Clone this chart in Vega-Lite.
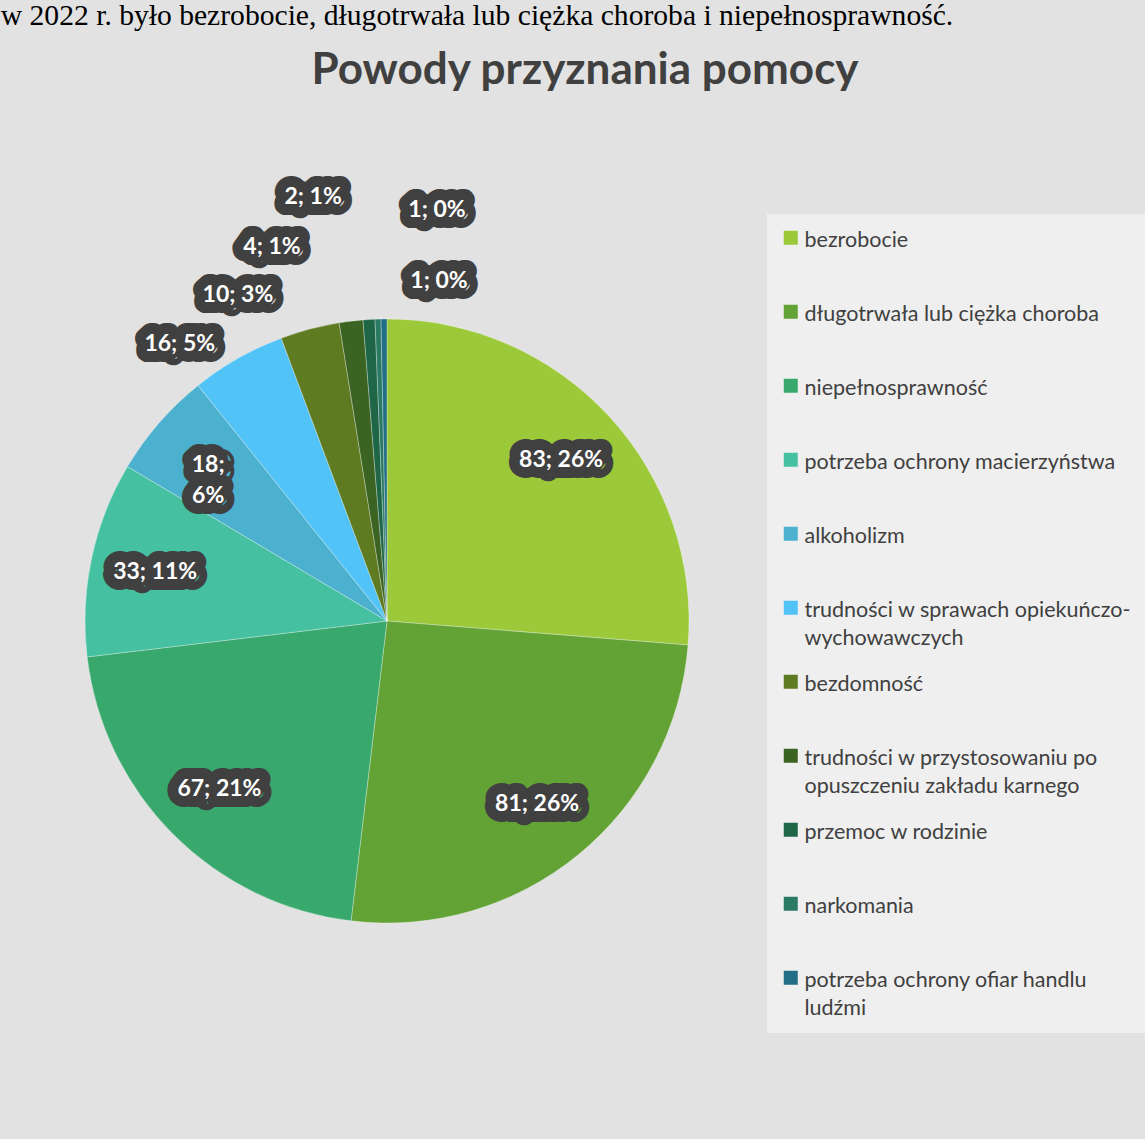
{
  "$schema": "https://vega.github.io/schema/vega-lite/v6.json",
  "background": "#e2e2e2",
  "padding": {"left": 0, "right": 0, "top": 0, "bottom": 107},
  "title": {"text": "w 2022 r. było bezrobocie, długotrwała lub ciężka choroba i niepełnosprawność.", "anchor": "start", "frame": "bounds", "font": "Liberation Serif", "fontSize": 29.6, "fontWeight": "normal", "color": "#000000", "dx": -83, "offset": 18},
  "config": {"view": {"stroke": null}, "style": {"guide-label": {"lineHeight": 28, "dy": -8}}},
  "vconcat": [
    {
      "width": 604,
      "height": 604,
      "title": {"text": "Powody przyznania pomocy", "font": "Lato", "fontSize": 44, "fontWeight": "bold", "color": "#404040", "anchor": "middle", "dx": 198, "offset": 93},
      "data": {"values": [
        {"category": "bezrobocie", "value": 83, "label": "83; 26%", "order": 1},
        {"category": "długotrwała lub ciężka choroba", "value": 81, "label": "81; 26%", "order": 2},
        {"category": "niepełnosprawność", "value": 67, "label": "67; 21%", "order": 3},
        {"category": "potrzeba ochrony macierzyństwa", "value": 33, "label": "33; 11%", "order": 4},
        {"category": "alkoholizm", "value": 18, "label": "18;\n6%", "order": 5},
        {"category": "trudności w sprawach opiekuńczo-wychowawczych", "value": 16, "label": "16; 5%", "order": 6},
        {"category": "bezdomność", "value": 10, "label": "10; 3%", "order": 7},
        {"category": "trudności w przystosowaniu po opuszczeniu zakładu karnego", "value": 4, "label": "4; 1%", "order": 8},
        {"category": "przemoc w rodzinie", "value": 2, "label": "2; 1%", "order": 9},
        {"category": "narkomania", "value": 1, "label": "1; 0%", "order": 10},
        {"category": "potrzeba  ochrony ofiar handlu ludźmi", "value": 1, "label": "1; 0%", "order": 11}
      ]},
      "layer": [
        {
          "mark": {"type": "arc", "outerRadius": 302, "stroke": "#ffffff", "strokeWidth": 0.6, "strokeOpacity": 0.5},
          "encoding": {
            "theta": {"field": "value", "type": "quantitative", "stack": true},
            "order": {"field": "order", "type": "quantitative", "sort": "ascending"},
            "color": {
              "field": "category", "type": "nominal",
              "scale": {
                "domain": ["bezrobocie", "długotrwała lub ciężka choroba", "niepełnosprawność", "potrzeba ochrony macierzyństwa", "alkoholizm", "trudności w sprawach opiekuńczo-wychowawczych", "bezdomność", "trudności w przystosowaniu po opuszczeniu zakładu karnego", "przemoc w rodzinie", "narkomania", "potrzeba  ochrony ofiar handlu ludźmi"],
                "range": ["#9BC93A", "#63A336", "#38A86C", "#45C1A2", "#4BB1CF", "#52C3F7", "#5E7B21", "#3B6321", "#1E6646", "#2A7A63", "#226E86"]
              },
              "legend": {
                "orient": "none", "legendX": 682, "legendY": -105, "direction": "vertical",
                "title": null, "symbolType": "square", "symbolSize": 196, "symbolStrokeWidth": 0,
                "labelFont": "Lato", "labelFontSize": 21.5, "labelColor": "#404040", "labelLimit": 400, "labelOffset": 3,
                "rowPadding": 21, "padding": 13, "fillColor": "#efefef", "gridAlign": "all",
                "labelExpr": "datum.label == 'trudności w sprawach opiekuńczo-wychowawczych' ? ['trudności w sprawach opiekuńczo-', 'wychowawczych'] : datum.label == 'trudności w przystosowaniu po opuszczeniu zakładu karnego' ? ['trudności w przystosowaniu po', 'opuszczeniu zakładu karnego'] : datum.label == 'potrzeba  ochrony ofiar handlu ludźmi' ? ['potrzeba  ochrony ofiar handlu', 'ludźmi'] : datum.label",
                "labelBaseline": "top"
              }
            }
          }
        },
        {
          "mark": {"type": "text", "radius": 237, "font": "Lato", "fontSize": 23, "fontWeight": "bold", "fill": "#404040", "stroke": "#404040", "strokeWidth": 22, "strokeJoin": "round", "lineBreak": "\n", "lineHeight": 31},
          "encoding": {
            "theta": {"field": "value", "type": "quantitative", "stack": true},
            "order": {"field": "order", "type": "quantitative", "sort": "ascending"},
            "text": {"condition": {"test": "datum.value >= 18", "field": "label"}, "value": ""}
          }
        },
        {
          "mark": {"type": "text", "radius": 237, "font": "Lato", "fontSize": 23, "fontWeight": "bold", "fill": "#ffffff", "lineBreak": "\n", "lineHeight": 31},
          "encoding": {
            "theta": {"field": "value", "type": "quantitative", "stack": true},
            "order": {"field": "order", "type": "quantitative", "sort": "ascending"},
            "text": {"condition": {"test": "datum.value >= 18", "field": "label"}, "value": ""}
          }
        },
        {
          "transform": [
            {"stack": "value", "groupby": [], "sort": [{"field": "order", "order": "ascending"}], "as": ["s0", "s1"]},
            {"filter": "datum.order >= 6"}
          ],
          "layer": [
            {"transform": [{"filter": "datum.order == 6"}], "mark": {"type": "text", "radius": 346, "thetaOffset": -0.2843, "font": "Lato", "fontSize": 23, "fontWeight": "bold", "fill": "#404040", "stroke": "#404040", "strokeWidth": 22, "strokeJoin": "round"}, "encoding": {"theta": {"field": "s1", "type": "quantitative", "stack": null}, "text": {"field": "label"}}},
            {"transform": [{"filter": "datum.order == 6"}], "mark": {"type": "text", "radius": 346, "thetaOffset": -0.2843, "font": "Lato", "fontSize": 23, "fontWeight": "bold", "fill": "#ffffff"}, "encoding": {"theta": {"field": "s1", "type": "quantitative", "stack": null}, "text": {"field": "label"}}},
            {"transform": [{"filter": "datum.order == 7"}], "mark": {"type": "text", "radius": 358, "thetaOffset": -0.2703, "font": "Lato", "fontSize": 23, "fontWeight": "bold", "fill": "#404040", "stroke": "#404040", "strokeWidth": 22, "strokeJoin": "round"}, "encoding": {"theta": {"field": "s1", "type": "quantitative", "stack": null}, "text": {"field": "label"}}},
            {"transform": [{"filter": "datum.order == 7"}], "mark": {"type": "text", "radius": 358, "thetaOffset": -0.2703, "font": "Lato", "fontSize": 23, "fontWeight": "bold", "fill": "#ffffff"}, "encoding": {"theta": {"field": "s1", "type": "quantitative", "stack": null}, "text": {"field": "label"}}},
            {"transform": [{"filter": "datum.order == 8"}], "mark": {"type": "text", "radius": 391, "thetaOffset": -0.2189, "font": "Lato", "fontSize": 23, "fontWeight": "bold", "fill": "#404040", "stroke": "#404040", "strokeWidth": 22, "strokeJoin": "round"}, "encoding": {"theta": {"field": "s1", "type": "quantitative", "stack": null}, "text": {"field": "label"}}},
            {"transform": [{"filter": "datum.order == 8"}], "mark": {"type": "text", "radius": 391, "thetaOffset": -0.2189, "font": "Lato", "fontSize": 23, "fontWeight": "bold", "fill": "#ffffff"}, "encoding": {"theta": {"field": "s1", "type": "quantitative", "stack": null}, "text": {"field": "label"}}},
            {"transform": [{"filter": "datum.order == 9"}], "mark": {"type": "text", "radius": 430, "thetaOffset": -0.133, "font": "Lato", "fontSize": 23, "fontWeight": "bold", "fill": "#404040", "stroke": "#404040", "strokeWidth": 22, "strokeJoin": "round"}, "encoding": {"theta": {"field": "s1", "type": "quantitative", "stack": null}, "text": {"field": "label"}}},
            {"transform": [{"filter": "datum.order == 9"}], "mark": {"type": "text", "radius": 430, "thetaOffset": -0.133, "font": "Lato", "fontSize": 23, "fontWeight": "bold", "fill": "#ffffff"}, "encoding": {"theta": {"field": "s1", "type": "quantitative", "stack": null}, "text": {"field": "label"}}},
            {"transform": [{"filter": "datum.order == 10"}], "mark": {"type": "text", "radius": 414, "thetaOffset": 0.141, "font": "Lato", "fontSize": 23, "fontWeight": "bold", "fill": "#404040", "stroke": "#404040", "strokeWidth": 22, "strokeJoin": "round"}, "encoding": {"theta": {"field": "s1", "type": "quantitative", "stack": null}, "text": {"field": "label"}}},
            {"transform": [{"filter": "datum.order == 10"}], "mark": {"type": "text", "radius": 414, "thetaOffset": 0.141, "font": "Lato", "fontSize": 23, "fontWeight": "bold", "fill": "#ffffff"}, "encoding": {"theta": {"field": "s1", "type": "quantitative", "stack": null}, "text": {"field": "label"}}},
            {"transform": [{"filter": "datum.order == 11"}], "mark": {"type": "text", "radius": 344, "thetaOffset": 0.1518, "font": "Lato", "fontSize": 23, "fontWeight": "bold", "fill": "#404040", "stroke": "#404040", "strokeWidth": 22, "strokeJoin": "round"}, "encoding": {"theta": {"field": "s1", "type": "quantitative", "stack": null}, "text": {"field": "label"}}},
            {"transform": [{"filter": "datum.order == 11"}], "mark": {"type": "text", "radius": 344, "thetaOffset": 0.1518, "font": "Lato", "fontSize": 23, "fontWeight": "bold", "fill": "#ffffff"}, "encoding": {"theta": {"field": "s1", "type": "quantitative", "stack": null}, "text": {"field": "label"}}}
          ]
        }
      ]
    }
  ]
}
